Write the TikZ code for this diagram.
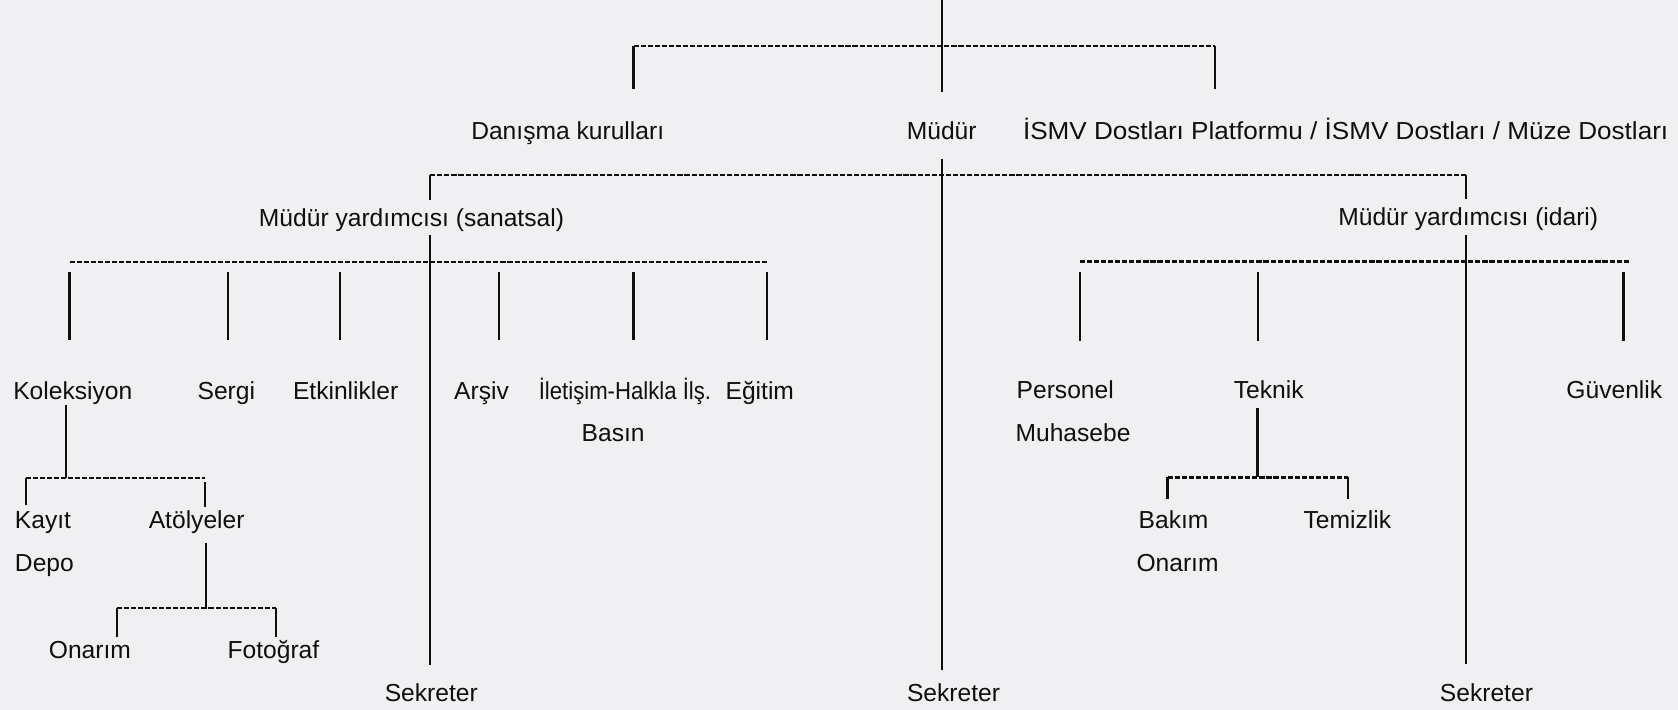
\documentclass[tikz,border=0pt]{standalone}
\usepackage{fontspec}
\usepackage{graphicx}
\setmainfont{Liberation Sans}
\definecolor{bgcol}{RGB}{240,240,242}
\definecolor{ink}{RGB}{15,15,15}
\begin{document}
\begin{tikzpicture}[x=0.5pt,y=-0.5pt,
  txt/.style={inner sep=0pt, outer sep=0pt, text height=8.5pt, text depth=2.5pt,
              anchor=base, font=\fontsize{11.5}{13.8}\selectfont, text=ink},
  conn/.style={draw=ink, line width=1pt},
  bar/.style={draw=ink, line width=1.15pt, dash pattern=on 2.4pt off 0.9pt}]
\fill[bgcol] (0,0) rectangle (1568,663);
\useasboundingbox (0,0) rectangle (1568,663);

% ---------- texts ----------
\node[txt] (dan) at (530.5,130) {Danışma kurulları};
\node[txt] (mud) at (880,130) {Müdür};
\node[txt, anchor=base west] (ismv) at (956,130) {\scalebox{1.06}[1]{İSMV Dostları Platformu / İSMV Dostları / Müze Dostları}};

\node[txt] (san) at (384.5,211.5) {Müdür yardımcısı (sanatsal)};
\node[txt] (ida) at (1372,211) {Müdür yardımcısı (idari)};

\node[txt] (kol) at (68,373) {Koleksiyon};
\node[txt] (ser) at (211.5,373) {Sergi};
\node[txt] (etk) at (323,373) {Etkinlikler};
\node[txt] (ars) at (450,373) {Arşiv};
\node[txt] (ilt) at (584,373) {\scalebox{0.9}[1]{İletişim-Halkla İlş.}};
\node[txt] (egt) at (710,373) {Eğitim};
\node[txt] (bas) at (573,412.7) {Basın};

\node[txt, anchor=base west] (per) at (950,372) {Personel};
\node[txt, anchor=base west] (muh) at (949,412.7) {Muhasebe};
\node[txt] (tek) at (1185.6,372) {Teknik};
\node[txt] (guv) at (1508.5,372) {Güvenlik};

\node[txt, anchor=base west] (kay) at (14,493.6) {Kayıt};
\node[txt, anchor=base west] (dep) at (14,534) {Depo};
\node[txt] (ato) at (183.8,493.6) {Atölyeler};
\node[txt] (ona) at (84,615) {Onarım};
\node[txt] (fot) at (255.5,615) {Fotoğraf};

\node[txt, anchor=base west] (bak) at (1064,493.5) {Bakım};
\node[txt, anchor=base west] (onb) at (1062,534) {Onarım};
\node[txt] (tem) at (1259,493.5) {Temizlik};

\node[txt] (sek1) at (403,655.6) {Sekreter};
\node[txt] (sek2) at (891,655.6) {Sekreter};
\node[txt] (sek3) at (1389,655.6) {Sekreter};

% ---------- junction coordinates ----------
\coordinate (top) at (880,0);
\coordinate (tb1) at (592,43);
\coordinate (tb2) at (1135,43);
\coordinate (sb1) at (402,163.5);
\coordinate (sb2) at (1370,163.5);
\coordinate (lb1) at (65,245);
\coordinate (cser) at (213,245);
\coordinate (cetk) at (318,245);
\coordinate (cars) at (466,245);
\coordinate (cilt) at (592,245);
\coordinate (lb2) at (717,245);
\coordinate (rb1) at (1009,244.5);
\coordinate (ctek) at (1175.5,244.5);
\coordinate (cguv) at (1517,244.5);
\coordinate (rb2) at (1522,244.5);
\coordinate (kj) at (62,446.5);
\coordinate (kb1) at (24,446.5);
\coordinate (kb2) at (191.6,446.5);
\coordinate (aj) at (192.5,568);
\coordinate (ab1) at (109,568);
\coordinate (ab2) at (258,568);
\coordinate (tj) at (1175,446);
\coordinate (tk1) at (1091,446);
\coordinate (tk2) at (1260,446);

% ---------- top level ----------
\draw[conn, shorten >=13.5pt] (top) -- (mud.north);
\draw[bar] (tb1) -- (tb2);
\draw[conn, shorten >=15pt] (tb1) -- (tb1 |- dan.north);
\draw[conn, shorten >=15pt] (tb2) -- (tb2 |- ismv.north);
\draw[conn, shorten <=7pt, shorten >=6.3pt] (mud.south) -- (mud.south |- sek2.north);

% ---------- second level ----------
\draw[bar] (sb1) -- (sb2);
\draw[conn, shorten >=3.75pt] (sb1) -- (sb1 |- san.north);
\draw[conn, shorten >=4pt] (sb2) -- (sb2 |- ida.north);
\draw[conn, shorten <=1.75pt, shorten >=8.8pt] (sb1 |- san.south) -- (sb1 |- sek1.north);
\draw[conn, shorten <=1.8pt, shorten >=9.3pt] (sb2 |- ida.south) -- (sb2 |- sek3.north);

% ---------- sanatsal branch ----------
\draw[bar] (lb1) -- (lb2);
\foreach \c/\n in {lb1/kol, cser/ser, cetk/etk, cars/ars, cilt/ilt, lb2/egt}
  \draw[conn, shorten <=4.5pt, shorten >=19pt] (\c) -- (\c |- \n.north);

% ---------- idari branch ----------
\draw[bar] (rb1) -- (rb2);
\foreach \c/\n in {rb1/per, ctek/tek, cguv/guv}
  \draw[conn, shorten <=5pt, shorten >=18.2pt] (\c) -- (\c |- \n.north);

% ---------- Koleksiyon ----------
\draw[conn] (kol.south -| kj) -- (kj);
\draw[bar] (kb1) -- (kb2);
\draw[conn, shorten >=2.3pt] (kb1) -- (kb1 |- kay.north);
\draw[conn, shorten <=2pt, shorten >=1.5pt] (kb2) -- (kb2 |- ato.north);

% ---------- Atölyeler ----------
\draw[conn, shorten <=4.2pt] (ato.south -| aj) -- (aj);
\draw[bar] (ab1) -- (ab2);
\draw[conn, shorten >=1.5pt] (ab1) -- (ab1 |- ona.north);
\draw[conn, shorten >=1.5pt] (ab2) -- (ab2 |- fot.north);

% ---------- Teknik ----------
\draw[conn, shorten <=2pt] (tek.south -| tj) -- (tj);
\draw[bar] (tk1) -- (tk2);
\draw[conn, shorten >=5.25pt] (tk1) -- (tk1 |- bak.north);
\draw[conn, shorten >=5.25pt] (tk2) -- (tk2 |- tem.north);
\end{tikzpicture}
\end{document}
